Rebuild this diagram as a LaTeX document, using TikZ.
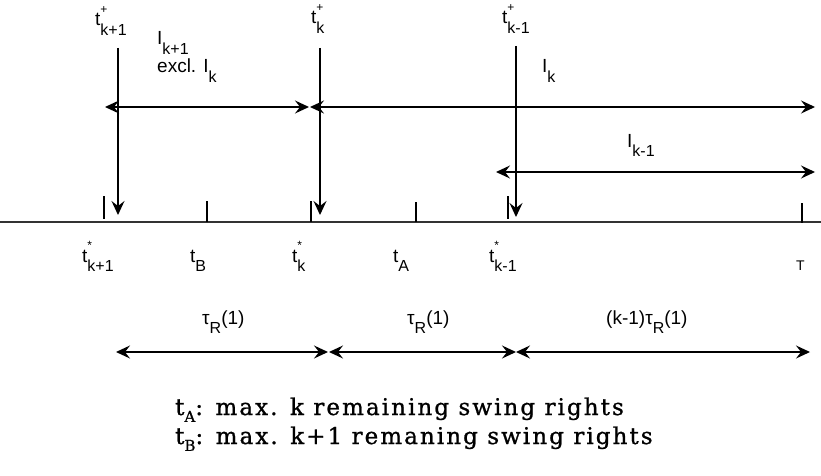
\documentclass[tikz,border=0pt]{standalone}
\usepackage{fontspec}
\setmainfont{Liberation Sans}
\newfontfamily\legendfont[LetterSpace=9, FakeBold=1]{DejaVu Serif}
\usetikzlibrary{arrows.meta}
% sub- and superscripts set the way the drawing does (large, well off the line)
\newcommand{\low}[1]{\raisebox{-0.5em}{\fontsize{16}{16}\selectfont #1}}
\newcommand{\tlab}[3]{#1\rlap{\raisebox{0.65em}{\fontsize{12}{12}\selectfont #2}}\low{#3}}
\tikzset{
  lbl/.style={font=\fontsize{19}{20}\selectfont, inner sep=0pt, anchor=base west},
  leg/.style={font=\legendfont\fontsize{23}{26}\selectfont, inner sep=0pt, anchor=base west},
  ax/.style={line width=1.4pt, black!80},
  tck/.style={line width=1.4pt},
  arr/.style={line width=1.4pt, -{Stealth[length=14pt, width=13pt, inset=5pt]}},
  darr/.style={line width=1.4pt, {Stealth[length=14pt, width=13pt, inset=5pt]}-{Stealth[length=14pt, width=13pt, inset=5pt]}},
}

\begin{document}
\begin{tikzpicture}[x=1pt, y=-1pt]
  \useasboundingbox (0,0) rectangle (821,476);
  % ---------- time axis ----------
  \coordinate (axl) at (0,222);
  \coordinate (axr) at (821,222);
  \draw[ax] (axl) -- (axr);
  \foreach \x/\a/\b in {104/196/219, 207/201/222, 311/201/222, 416/202/222, 508/196/219, 802/203/223}
    \draw[tck] (\x,\a) -- (\x,\b);
  % ---------- labels under the axis ----------
  \node[lbl] (sk1) at (82,262) {\tlab{t}{*}{k+1}};
  \node[lbl] (tb)  at (190,262) {t\low{B}};
  \node[lbl] (sk0) at (292,262) {\tlab{t}{*}{k}};
  \node[lbl] (ta)  at (393,262) {t\low{A}};
  \node[lbl] (skm) at (489,262) {\tlab{t}{*}{k-1}};
  \node[lbl, font=\fontsize{14}{15}\selectfont] (tT) at (796,270) {T};
  % ---------- exercise times ----------
  \node[lbl] (pk1) at (95,26) {\tlab{t}{+}{k+1}};
  \node[lbl] (pk0) at (311,24) {\tlab{t}{+}{k}};
  \node[lbl] (pkm) at (502,24) {\tlab{t}{+}{k-1}};
  \coordinate (v1a) at (118,48);  \coordinate (v1b) at (118,215);
  \coordinate (v2a) at (320,48);  \coordinate (v2b) at (320,215);
  \coordinate (v3a) at (516,46);  \coordinate (v3b) at (516,217);
  \draw[arr] (v1a) -- (v1b);
  \draw[arr] (v2a) -- (v2b);
  \draw[arr] (v3a) -- (v3b);
  % ---------- intervals ----------
  \coordinate (i1a) at (105,107); \coordinate (i1b) at (309,107);
  \coordinate (i2a) at (310,107); \coordinate (i2b) at (815,107);
  \coordinate (i3a) at (496,172); \coordinate (i3b) at (815,172);
  \draw[darr] (i1a) -- (i1b);
  \draw[darr] (i2a) -- (i2b);
  \draw[darr] (i3a) -- (i3b);
  \node[lbl] (ik1) at (157,45) {I\low{k+1}};
  \node[lbl] (exc) at (157,73) {excl. I\low{k}};
  \node[lbl] (ik0) at (542,73) {I\low{k}};
  \node[lbl] (ikm) at (627,147) {I\low{k-1}};
  % ---------- durations ----------
  \coordinate (d1a) at (116,352); \coordinate (d1b) at (328,352);
  \coordinate (d2a) at (329,352); \coordinate (d2b) at (516,352);
  \coordinate (d3a) at (516,352); \coordinate (d3b) at (810,352);
  \draw[darr] (d1a) -- (d1b);
  \draw[darr] (d2a) -- (d2b);
  \draw[darr] (d3a) -- (d3b);
  \node[lbl] (du1) at (202,324) {τ\low{R}(1)};
  \node[lbl] (du2) at (407,324) {τ\low{R}(1)};
  \node[lbl] (du3) at (606,324) {(k-1)τ\low{R}(1)};
  % ---------- legend ----------
  \node[leg] (la) at (175,415) {t\raisebox{-0.3em}{\fontsize{15}{15}\selectfont A}: max. k remaining swing rights};
  \node[leg] (lb) at (175,444) {t\raisebox{-0.3em}{\fontsize{15}{15}\selectfont B}: max. k+1 remaning swing rights};
\end{tikzpicture}
\end{document}
